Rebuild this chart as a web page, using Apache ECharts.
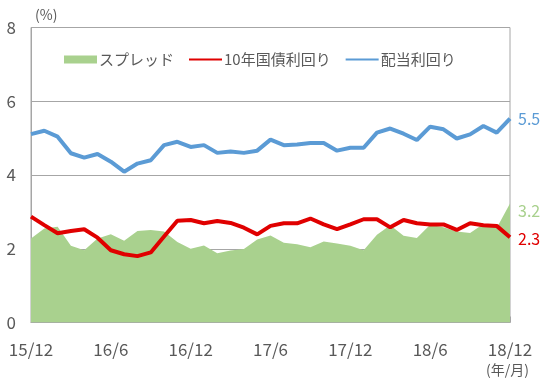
<!DOCTYPE html>
<html><head><meta charset="utf-8">
<script src="https://cdn.jsdelivr.net/npm/echarts@6/dist/echarts.min.js"></script>
<style>html,body{margin:0;padding:0;background:#fff}#c{width:550px;height:382px}</style>
</head><body><div id="c"></div>
<script>
var categories = ['15/12','16/1','16/2','16/3','16/4','16/5','16/6','16/7','16/8','16/9','16/10','16/11',
  '16/12','17/1','17/2','17/3','17/4','17/5','17/6','17/7','17/8','17/9','17/10','17/11',
  '17/12','18/1','18/2','18/3','18/4','18/5','18/6','18/7','18/8','18/9','18/10','18/11','18/12'];
var dividendYield = [5.11,5.20,5.04,4.59,4.47,4.57,4.36,4.09,4.31,4.40,4.81,4.90,
  4.76,4.81,4.60,4.64,4.60,4.66,4.96,4.81,4.83,4.87,4.87,4.66,
  4.74,4.74,5.15,5.26,5.12,4.95,5.31,5.24,4.99,5.10,5.33,5.15,5.53];
var bondYield = [2.87,2.64,2.42,2.48,2.53,2.30,1.96,1.85,1.80,1.90,2.33,2.76,
  2.78,2.69,2.75,2.70,2.57,2.39,2.62,2.69,2.69,2.82,2.66,2.53,
  2.66,2.80,2.80,2.58,2.78,2.69,2.66,2.66,2.51,2.69,2.64,2.62,2.31];
var spread = [2.28,2.55,2.60,2.08,1.96,2.28,2.39,2.22,2.48,2.51,2.47,2.18,
  2.00,2.09,1.88,1.95,1.99,2.25,2.36,2.16,2.12,2.04,2.20,2.14,
  2.08,1.96,2.38,2.64,2.35,2.29,2.65,2.58,2.47,2.43,2.67,2.56,3.23];
var seriesNames = ['スプレッド','10年国債利回り','配当利回り'];
var yTicks = [0,2,4,6,8];

var FONT = '"Noto Sans CJK JP","Noto Sans",sans-serif';
var GRAY = '#595959';
var chart = echarts.init(document.getElementById('c'), null, {renderer:'canvas'});
chart.setOption({
  animation:false,
  textStyle:{fontFamily:FONT},
  grid:{left:31,right:40,top:27.5,bottom:59.5,show:true,borderColor:'#A6A6A6',borderWidth:1,backgroundColor:'transparent'},
  legend:{
    left:59, top:47, itemWidth:33, itemHeight:8, itemGap:14,
    textStyle:{fontSize:15,color:GRAY,fontFamily:FONT,padding:[0,0,0,-3]},
    data:[{name:seriesNames[0],icon:'rect'},
          {name:seriesNames[1],itemStyle:{opacity:0}},
          {name:seriesNames[2],itemStyle:{opacity:0}}]
  },
  xAxis:{
    type:'category', data:categories, boundaryGap:false,
    axisLine:{lineStyle:{color:'#A6A6A6',width:1}},
    axisTick:{inside:true,interval:5,length:6,lineStyle:{color:'#A6A6A6'}},
    axisLabel:{interval:5,color:GRAY,fontSize:17,margin:19,fontFamily:FONT}
  },
  yAxis:{
    type:'value', min:yTicks[0], max:yTicks[yTicks.length-1], interval:2,
    axisLine:{show:true,lineStyle:{color:'#A6A6A6',width:1}},
    axisTick:{show:false},
    axisLabel:{color:GRAY,fontSize:17,margin:15,fontFamily:FONT},
    splitLine:{lineStyle:{color:'#A6A6A6',width:1}}
  },
  series:[
    {name:seriesNames[0],type:'line',data:spread,symbol:'none',z:1,
     itemStyle:{color:'#A9D18E'},lineStyle:{width:0,color:'#A9D18E'},
     areaStyle:{color:'#A9D18E',opacity:1},
     endLabel:{show:true,formatter:function(p){return p.value.toFixed(1);},color:'#A9D18E',fontSize:16,distance:8,offset:[0,8],fontFamily:FONT}},
    {name:seriesNames[1],type:'line',data:bondYield,symbol:'none',z:3,
     itemStyle:{color:'#E00000'},lineStyle:{width:4,color:'#E00000'},
     endLabel:{show:true,formatter:function(p){return p.value.toFixed(1);},color:'#E00000',fontSize:16,distance:8,offset:[0,2],fontFamily:FONT}},
    {name:seriesNames[2],type:'line',data:dividendYield,symbol:'none',z:3,
     itemStyle:{color:'#5B9BD5'},lineStyle:{width:4,color:'#5B9BD5'},
     endLabel:{show:true,formatter:function(p){return p.value.toFixed(1);},color:'#5B9BD5',fontSize:16,distance:8,offset:[0,0],fontFamily:FONT}}
  ],
  graphic:[
    {type:'text',left:35,top:8,style:{text:'(%)',fill:GRAY,fontSize:14,fontFamily:FONT}},
    {type:'text',left:486,top:363,style:{text:'(年/月)',fill:GRAY,fontSize:14,fontFamily:FONT}}
  ]
});
</script></body></html>
